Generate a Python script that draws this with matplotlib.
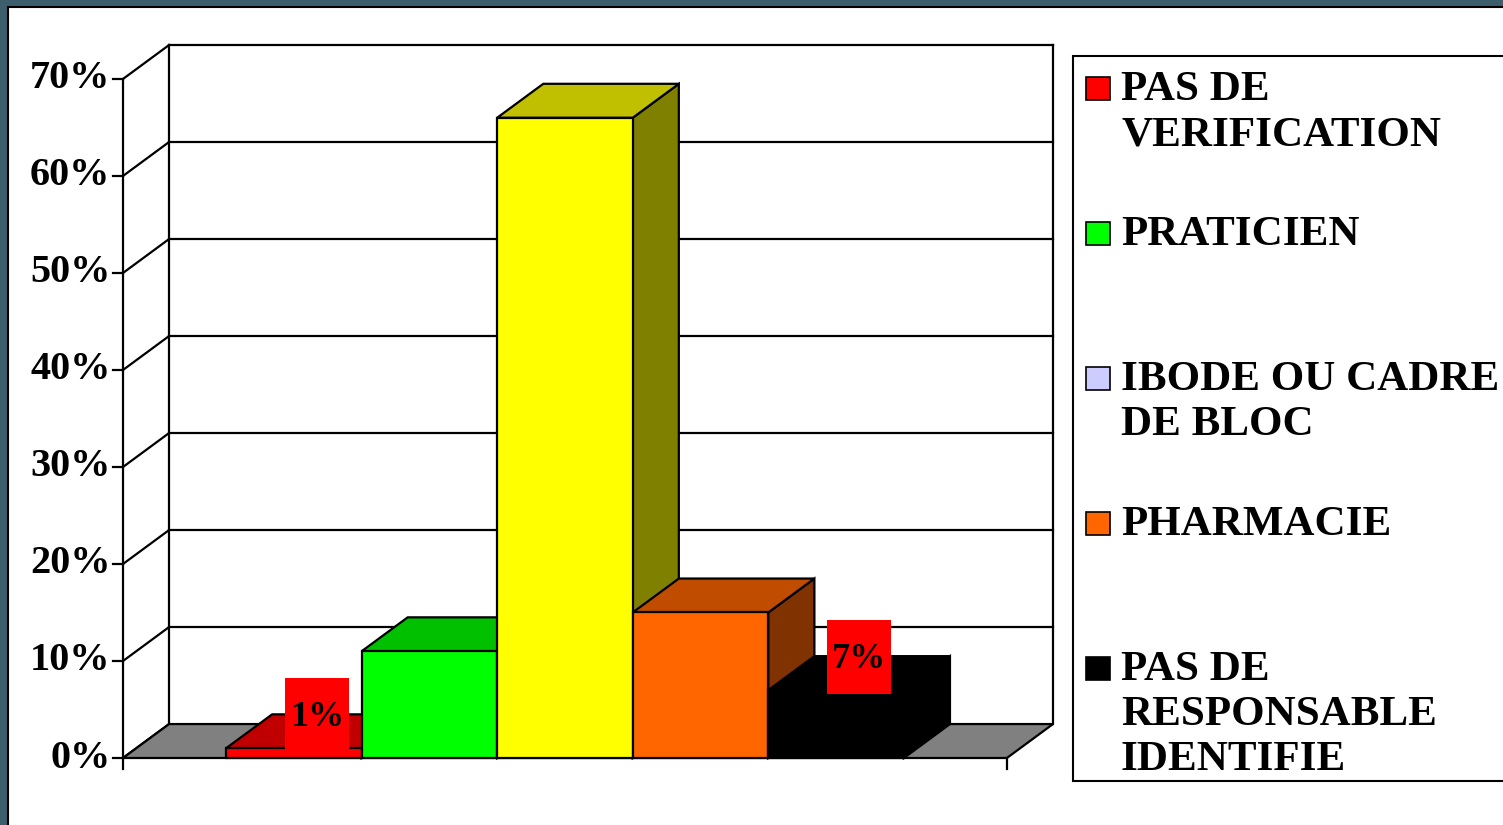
import matplotlib
matplotlib.use("Agg")
import matplotlib.pyplot as plt
from matplotlib.patches import Polygon, Rectangle
from matplotlib.transforms import ScaledTranslation

# ---- data ----
categories = ["PAS DE\nVERIFICATION", "PRATICIEN", "IBODE OU CADRE\nDE BLOC",
              "PHARMACIE", "PAS DE\nRESPONSABLE\nIDENTIFIE"]
values = [1, 11, 66, 15, 7]
front_colors = ["#FF0000", "#00FF00", "#FFFF00", "#FF6600", "#000000"]
top_colors = ["#C00000", "#00C000", "#C0C000", "#C04C00", "#000000"]
side_colors = ["#800000", "#008000", "#808000", "#803300", "#000000"]
legend_colors = ["#FF0000", "#00FF00", "#CCCCFF", "#FF6600", "#000000"]
labelled = {0: "1%", 4: "7%"}
yticks = [0, 10, 20, 30, 40, 50, 60, 70]
ytick_labels = ["0%", "10%", "20%", "30%", "40%", "50%", "60%", "70%"]

# ---- geometry (layout) ----
W, H = 1503, 825
DX, DY = 0.34, 3.5            # depth offset in data units
FLOOR = (-1.26, 5.26)
YMAX = 70
SERIF = "Liberation Serif"

fig = plt.figure(figsize=(W / 100, H / 100), dpi=100)
fig.patch.set_facecolor("#3D5F6D")
# white slide area
fig.patches.append(Rectangle((8 / W, -0.1), 1.2, (H - 7.5) / H + 0.1,
                             transform=fig.transFigure, fc="white", ec="black",
                             lw=1.5, zorder=-5))

ax_left, ax_right = 123, 1053
ax_bottom, ax_top = 758, 45
ax = fig.add_axes([ax_left / W, (H - ax_bottom) / H,
                   (ax_right - ax_left) / W, (ax_bottom - ax_top) / H])
ax.set_zorder(1)
ax.set_xlim(FLOOR[0], FLOOR[1] + DX)
ax.set_ylim(0, YMAX + DY)
ax.axis("off")
ax.patch.set_alpha(0)

lw = 1.6
# back wall gridlines and edges
for t in yticks:
    ax.plot([FLOOR[0], FLOOR[0] + DX], [t, t + DY], color="black", lw=lw,
            clip_on=False, zorder=1)
    if t > 0:
        ax.plot([FLOOR[0] + DX, FLOOR[1] + DX], [t + DY, t + DY], color="black",
                lw=lw, clip_on=False, zorder=1)
ax.plot([FLOOR[0] + DX, FLOOR[0] + DX], [DY, YMAX + DY], color="black", lw=lw,
        clip_on=False, zorder=1)
ax.plot([FLOOR[1] + DX, FLOOR[1] + DX], [DY, YMAX + DY], color="black", lw=lw,
        clip_on=False, zorder=1)
# front value axis
ax.plot([FLOOR[0], FLOOR[0]], [0, YMAX], color="black", lw=lw, clip_on=False, zorder=1)

# floor
ax.add_patch(Polygon([(FLOOR[0], 0), (FLOOR[1], 0), (FLOOR[1] + DX, DY),
                      (FLOOR[0] + DX, DY)], closed=True, fc="#808080", ec="black",
                     lw=lw, zorder=2, clip_on=False))

# y ticks and labels
ytick_px = 10 / ((ax_right - ax_left) / (FLOOR[1] + DX - FLOOR[0]))
for t, lab in zip(yticks, ytick_labels):
    ax.plot([FLOOR[0] - ytick_px, FLOOR[0]], [t, t], color="black", lw=lw,
            clip_on=False, zorder=3)
    ax.text(FLOOR[0] - ytick_px * 1.25, t, lab, ha="right", va="center",
            fontsize=29, fontweight="bold", family=SERIF, zorder=3)
# category axis end ticks
for xe in FLOOR:
    ax.plot([xe, xe], [0, -1.1], color="black", lw=lw, clip_on=False, zorder=3)

# bars (left to right)
for i, v in enumerate(values):
    x0, x1 = i - 0.5, i + 0.5
    z = 4 + i
    ax.add_patch(Polygon([(x1, 0), (x1, v), (x1 + DX, v + DY), (x1 + DX, DY)],
                         closed=True, fc=side_colors[i], ec="black", lw=lw,
                         zorder=z, clip_on=False))
    ax.add_patch(Polygon([(x0, v), (x1, v), (x1 + DX, v + DY), (x0 + DX, v + DY)],
                         closed=True, fc=top_colors[i], ec="black", lw=lw,
                         zorder=z, clip_on=False))
    ax.add_patch(Rectangle((x0, 0), x1 - x0, v, fc=front_colors[i], ec="black",
                           lw=lw, zorder=z + 0.1, clip_on=False))

# data labels: red box (0.64in x 0.74in) centred above the bar's top
for i, lab in labelled.items():
    xa, ya = i + DX / 2, values[i] + DY / 2 + 1.7
    tr = fig.dpi_scale_trans + ScaledTranslation(xa, ya, ax.transData)
    ax.add_patch(Rectangle((-0.32, -0.37), 0.64, 0.74, transform=tr,
                           fc="#FF0000", ec="none", zorder=19, clip_on=False))
    ax.text(xa, ya - 0.3, lab, ha="center", va="center",
            fontsize=26, fontweight="bold", family=SERIF, zorder=20)

# legend (drawn manually)
leg_left, leg_top, leg_bottom = 1073, 56, 781
fig.patches.append(Rectangle((leg_left / W, (H - leg_bottom) / H), 1.0,
                             (leg_bottom - leg_top) / H, transform=fig.transFigure,
                             fc="white", ec="black", lw=1.5, zorder=5))
first_baseline, entry_step, line_step = 100, 145, 45
for i, (lab, c) in enumerate(zip(categories, legend_colors)):
    base = first_baseline + i * entry_step
    fig.patches.append(Rectangle((1086 / W, (H - base) / H), 24 / W, 23 / H,
                                 transform=fig.transFigure, fc=c, ec="black",
                                 lw=1.2, zorder=6))
    for j, line in enumerate(lab.split("\n")):
        fig.text(1121 / W, (H - base - j * line_step) / H, line, ha="left",
                 va="baseline", fontsize=31, fontweight="bold", family=SERIF,
                 zorder=7)

fig.savefig("out.png", dpi=100, facecolor=fig.get_facecolor())
